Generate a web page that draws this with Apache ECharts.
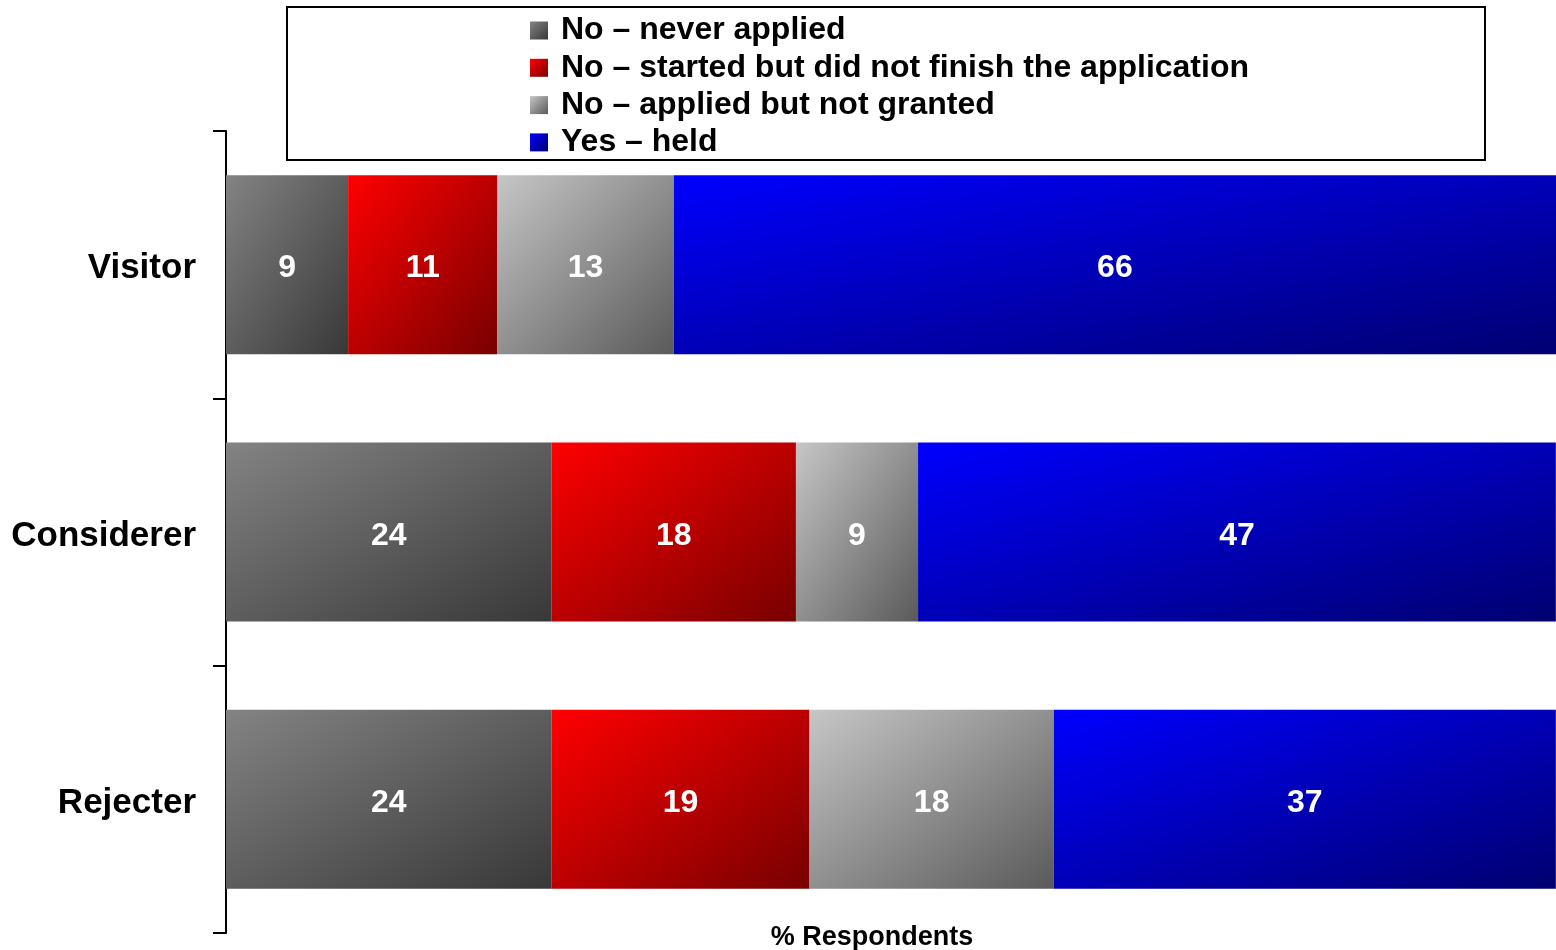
<!DOCTYPE html>
<html>
<head>
<meta charset="utf-8">
<script src="https://cdn.jsdelivr.net/npm/echarts@6/dist/echarts.min.js"></script>
<style>
html,body{margin:0;padding:0;background:#fff;}
#chart{width:1556px;height:950px;}
</style>
</head>
<body>
<div id="chart"></div>
<script>
const categories = ['Visitor', 'Considerer', 'Rejecter'];
const seriesNames = ['No \u2013 never applied', 'No \u2013 started but did not finish the application', 'No \u2013 applied but not granted', 'Yes \u2013 held'];
const neverApplied = [9, 24, 24];
const startedNotFinished = [11, 18, 19];
const appliedNotGranted = [13, 9, 18];
const yesHeld = [66, 47, 37];
const xAxisTitle = '% Respondents';

const FONT = "'Liberation Sans', Arial, sans-serif";
const PX_PER_UNIT = 13.57;   // approx. pixel width of one unit (scale continues past the right edge of the picture)
const PLOT_W = 1330;
const X_MAX = PLOT_W / PX_PER_UNIT;
const BAR_H = 179;
const palette = [
  ['#838383', '#383838'],
  ['#ff0000', '#780000'],
  ['#c6c6c6', '#5a5a5a'],
  ['#0000ff', '#000070']
];

function diagGrad(c, w, h) {
  const s = w * w + h * h;
  return new echarts.graphic.LinearGradient(0, 0, 2 * h * h / s, 2 * w * w / s,
    [{offset: 0, color: c[0]}, {offset: 1, color: c[1]}]);
}

const allValues = [neverApplied, startedNotFinished, appliedNotGranted, yesHeld];

const series = allValues.map((vals, i) => ({
  name: seriesNames[i],
  type: 'bar',
  stack: 'total',
  barWidth: BAR_H,
  itemStyle: { color: diagGrad(palette[i], 1, 1) },
  label: {
    show: true,
    position: 'inside',
    offset: [0, 4],
    color: '#fff',
    fontSize: 32,
    fontWeight: 'bold',
    fontFamily: FONT
  },
  data: vals.map(v => ({
    value: v,
    itemStyle: { color: diagGrad(palette[i], v * PX_PER_UNIT, BAR_H) }
  }))
}));

const chart = echarts.init(document.getElementById('chart'), null, {renderer: 'canvas'});
chart.setOption({
  animation: false,
  backgroundColor: '#fff',
  grid: { left: 226, top: 131, width: PLOT_W, height: 802 },
  xAxis: { type: 'value', min: 0, max: X_MAX, show: false },
  yAxis: {
    type: 'category',
    inverse: true,
    data: categories,
    axisLine: { show: true, lineStyle: { color: '#000', width: 2 } },
    axisTick: { show: true, length: 13, lineStyle: { color: '#000', width: 2 } },
    axisLabel: {
      margin: 30,
      formatter: '{c|{value}}',
      rich: {
        c: { color: '#000', fontSize: 35, fontWeight: 'bold', fontFamily: FONT, padding: [8, 0, 0, 0] }
      }
    },
    splitLine: { show: false }
  },
  legend: {
    orient: 'vertical',
    left: 530,
    top: 14.5,
    padding: 0,
    itemWidth: 18,
    itemHeight: 18,
    itemGap: 5.3,
    icon: 'rect',
    textStyle: { color: '#000', fontSize: 32, fontWeight: 'bold', fontFamily: FONT, padding: [0, 0, 0, 8] },
    data: seriesNames
  },
  graphic: [
    {
      type: 'rect',
      shape: { x: 287, y: 7, width: 1198, height: 153 },
      style: { fill: 'none', stroke: '#000', lineWidth: 2 },
      z: 0
    },
    {
      type: 'text',
      x: 872,
      y: 938,
      style: { text: xAxisTitle, fill: '#000', font: 'bold 27px ' + FONT, textAlign: 'center', textVerticalAlign: 'middle' }
    }
  ],
  series: series
});
</script>
</body>
</html>
